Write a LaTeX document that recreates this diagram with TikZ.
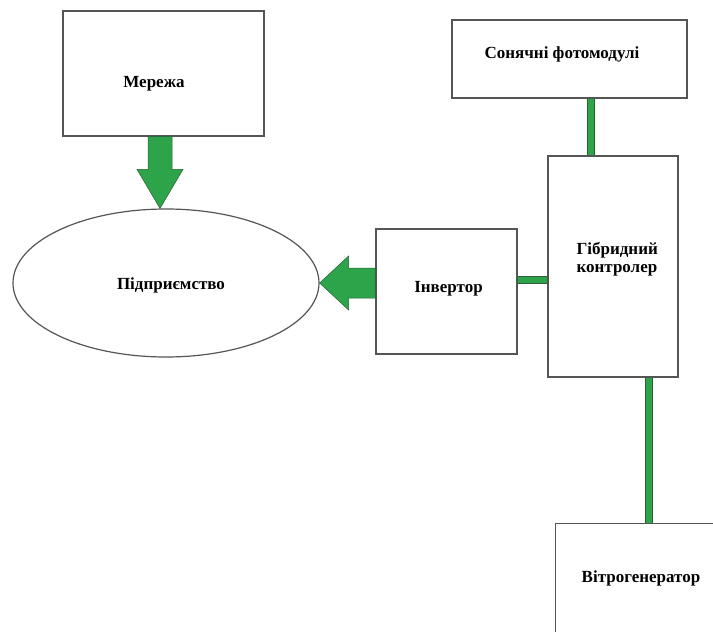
\documentclass[tikz,border=0pt]{standalone}
\usepackage{fontspec}
\setmainfont{Liberation Serif}
\usetikzlibrary{shapes.geometric,calc}
\definecolor{boxline}{RGB}{85,85,85}
\definecolor{flowgreen}{RGB}{46,164,74}
\definecolor{flowedge}{RGB}{38,96,56}
\tikzset{
  x=1pt, y=-1pt,
  block/.style={draw=boxline, line width=1.2pt, fill=white, rectangle, inner sep=0pt},
  oval/.style={draw=boxline, line width=1.2pt, fill=white, ellipse, inner sep=0pt},
  caption/.style={font=\fontsize{17}{20}\selectfont\bfseries, inner sep=0pt, anchor=base},
  fatarrow/.style={fill=flowgreen, draw=flowedge, line width=0.5pt, line join=miter},
  bus/.style={draw=flowedge, line width=0.8pt, double=flowgreen, double distance=5.6pt}
}
\begin{document}
\begin{tikzpicture}
\useasboundingbox (0,0) rectangle (713,632);
\clip (0,0) rectangle (713,632);
\fill[white] (0,0) rectangle (713,632);

% blocks
\node[block, minimum width=201pt, minimum height=125pt] (mer) at (163.5,73.5) {};
\node[block, minimum width=235pt, minimum height=78pt] (sol) at (569.5,59) {};
\node[block, minimum width=130pt, minimum height=221pt] (ctl) at (613,266.5) {};
\node[block, minimum width=141pt, minimum height=125pt] (inv) at (446.5,291.5) {};
\node[oval, minimum width=306pt, minimum height=148pt] (ent) at (166,283) {};
\node[block, anchor=north west, minimum width=200pt, minimum height=160pt] (wind) at (555,523) {};

% captions, set on their baselines
\node[caption] (merT) at ($(mer.center)+(-9.5,13.5)$) {Мережа};
\node[caption] (solT) at ($(sol.center)+(-7.5,-1)$) {Сонячні фотомодулі};
\node[caption, anchor=base west] (ctlT1) at ($(ctl.north west)+(29,99)$) {Гібридний};
\node[caption, anchor=base west] (ctlT2) at ($(ctlT1.base west)+(0,18)$) {контролер};
\node[caption] (invT) at ($(inv.center)+(2,0.5)$) {Інвертор};
\node[caption] (entT) at ($(ent.center)+(5,6)$) {Підприємство};
\node[caption] (windT) at ($(wind.north west)+(86,59)$) {Вітрогенератор};

% bus bars between the power units
\draw[bus] ($(inv.east)+(0,-11.5)$) coordinate (ib) -- (ib -| ctl.west);
\draw[bus] ($(sol.south)+(21.5,0)$) coordinate (sb) -- (sb |- ctl.north);
\draw[bus] ($(ctl.south)+(36,0)$) coordinate (cb) -- (cb |- wind.north);

% supply from the grid
\coordinate (dtop) at ($(mer.south)+(-3.5,0)$);
\coordinate (dtip) at (dtop |- ent.north);
\filldraw[fatarrow] ($(dtop)+(-12,0)$) -- ($(dtip)+(-12,-39)$) -- ($(dtip)+(-23,-39)$)
  -- (dtip) -- ($(dtip)+(23,-39)$) -- ($(dtip)+(12,-39)$) -- ($(dtop)+(12,0)$) -- cycle;

% supply from the inverter
\coordinate (ltip) at (ent.east);
\coordinate (ltail) at (ent.east -| inv.west);
\filldraw[fatarrow] ($(ltail)+(0,-15)$) -- ($(ltip)+(29,-15)$) -- ($(ltip)+(29,-27)$)
  -- (ltip) -- ($(ltip)+(29,27)$) -- ($(ltip)+(29,15)$) -- ($(ltail)+(0,15)$) -- cycle;
\end{tikzpicture}
\end{document}
